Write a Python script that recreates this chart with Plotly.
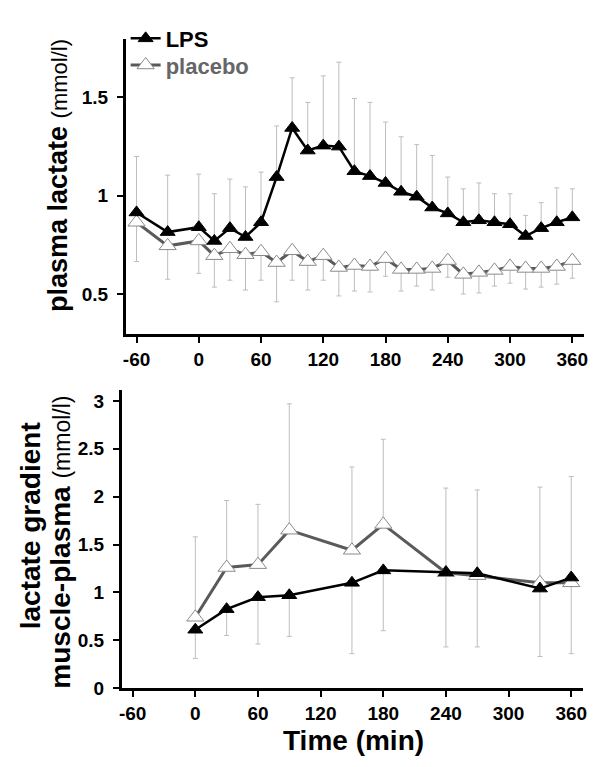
import plotly.graph_objects as go

# ---------------- data ----------------
time_top = [-60, -30, 0, 15, 30, 45, 60, 75, 90, 105, 120, 135, 150, 165, 180,
            195, 210, 225, 240, 255, 270, 285, 300, 315, 330, 345, 360]
lps_top = [0.915, 0.815, 0.84, 0.77, 0.835, 0.79, 0.865, 1.095, 1.345, 1.23, 1.255, 1.25,
           1.125, 1.10, 1.065, 1.02, 0.995, 0.94, 0.91, 0.865, 0.875, 0.865, 0.855,
           0.795, 0.835, 0.865, 0.89]
lps_top_sd = [0.285, 0.29, 0.27, 0.24, 0.25, 0.255, 0.255, 0.26, 0.255, 0.245, 0.355, 0.43,
              0.37, 0.375, 0.31, 0.28, 0.265, 0.265, 0.185, 0.17, 0.19, 0.145, 0.155,
              0.105, 0.13, 0.175, 0.145]
placebo_top = [0.865, 0.745, 0.77, 0.695, 0.73, 0.70, 0.715, 0.66, 0.72, 0.665, 0.695, 0.635,
               0.645, 0.64, 0.68, 0.625, 0.625, 0.63, 0.67, 0.60, 0.61, 0.62, 0.64,
               0.63, 0.63, 0.64, 0.67]
placebo_top_sd = [0.20, 0.17, 0.165, 0.16, 0.16, 0.18, 0.145, 0.20, 0.15, 0.145, 0.125, 0.145,
                  0.13, 0.13, 0.09, 0.11, 0.085, 0.11, 0.085, 0.10, 0.105, 0.08, 0.085,
                  0.105, 0.095, 0.09, 0.09]

time_bot = [0, 30, 60, 90, 150, 180, 240, 270, 330, 360]
lps_bot = [0.61, 0.825, 0.95, 0.97, 1.10, 1.23, 1.21, 1.20, 1.04, 1.155]
lps_bot_sd = [0.30, 0.275, 0.49, 0.43, 0.74, 0.63, 0.78, 0.77, 0.71, 0.795]
placebo_bot = [0.74, 1.26, 1.29, 1.65, 1.44, 1.71, 1.205, 1.175, 1.10, 1.10]
placebo_bot_sd = [0.84, 0.70, 0.63, 1.32, 0.87, 0.89, 0.885, 0.895, 1.00, 1.11]

x_ticks = [-60, 0, 60, 120, 180, 240, 300, 360]
x_ticklabels = ["-60", "0", "60", "120", "180", "240", "300", "360"]
y_top_ticks = [0.5, 1, 1.5]
y_top_labels = ["0.5", "1", "1.5"]
y_bot_ticks = [0, 0.5, 1, 1.5, 2, 2.5, 3]
y_bot_labels = ["0", "0.5", "1", "1.5", "2", "2.5", "3"]

# ---------------- styles ----------------
FONT = "Liberation Sans, Arial, sans-serif"
ERR_COL = "#bdbdbd"
PLAC_LINE = "#5a5a5a"
PLAC_EDGE = "#8a8a8a"

fig = go.Figure()


def err_trace(x, y, sd, up, xa, ya):
    e = dict(type="data", array=sd if up else [0] * len(sd),
             arrayminus=[0] * len(sd) if up else sd,
             symmetric=False, color=ERR_COL, thickness=1, width=2.5)
    return go.Scatter(x=x, y=y, mode="markers", xaxis=xa, yaxis=ya,
                      marker=dict(size=1, color="rgba(0,0,0,0)"),
                      error_y=e, showlegend=False, hoverinfo="skip")


# error bars first (beneath the lines)
fig.add_trace(err_trace(time_top, lps_top, lps_top_sd, True, "x", "y"))
fig.add_trace(err_trace(time_top, placebo_top, placebo_top_sd, False, "x", "y"))
fig.add_trace(err_trace(time_bot, placebo_bot, placebo_bot_sd, True, "x2", "y2"))
fig.add_trace(err_trace(time_bot, lps_bot, lps_bot_sd, False, "x2", "y2"))

lps_style = dict(mode="lines+markers", line=dict(color="black", width=2.5),
                 marker=dict(symbol="triangle-up", size=13, color="black",
                             line=dict(color="black", width=1)))
plac_style = dict(mode="lines+markers", line=dict(color=PLAC_LINE, width=3),
                  marker=dict(symbol="triangle-up", size=15, color="white",
                              line=dict(color=PLAC_EDGE, width=1)))

fig.add_trace(go.Scatter(x=time_top, y=placebo_top, xaxis="x", yaxis="y",
                         name="placebo", legend="legend2", **plac_style))
fig.add_trace(go.Scatter(x=time_top, y=lps_top, xaxis="x", yaxis="y",
                         name="LPS", legend="legend", **lps_style))
fig.add_trace(go.Scatter(x=time_bot, y=placebo_bot, xaxis="x2", yaxis="y2",
                         showlegend=False, **plac_style))
fig.add_trace(go.Scatter(x=time_bot, y=lps_bot, xaxis="x2", yaxis="y2",
                         showlegend=False, **lps_style))

W, H = 600, 767


def px_x(p):
    return p / W


def px_y(p):
    return 1 - p / H


axis_common = dict(showline=True, linecolor="black", linewidth=2.5,
                   ticks="outside", ticklen=6, tickwidth=2, tickcolor="black",
                   showgrid=False, zeroline=False,
                   tickfont=dict(family=FONT, size=19, color="black", weight="bold"))

legend_common = dict(xanchor="left", yanchor="middle", bgcolor="rgba(0,0,0,0)",
                     borderwidth=0, itemwidth=30)

fig.update_layout(
    width=W, height=H,
    margin=dict(l=0, r=0, t=0, b=0),
    paper_bgcolor="white", plot_bgcolor="white",
    font=dict(family=FONT, color="black"),
    xaxis=dict(domain=[px_x(116), px_x(580)], range=[-70.5, 371.5],
               tickvals=x_ticks, ticktext=x_ticklabels, anchor="y", **axis_common),
    yaxis=dict(domain=[px_y(331), px_y(31)], range=[0.295, 1.80],
               tickvals=y_top_ticks, ticktext=y_top_labels, anchor="x",
               ticklabelstandoff=5, **axis_common),
    xaxis2=dict(domain=[px_x(112), px_x(579)], range=[-70.5, 371.5],
                tickvals=x_ticks, ticktext=x_ticklabels, anchor="y2", **axis_common),
    yaxis2=dict(domain=[px_y(690), px_y(388)], range=[0, 3.11],
                tickvals=y_bot_ticks, ticktext=y_bot_labels, anchor="x2",
                ticklabelstandoff=5, **axis_common),
    legend=dict(x=px_x(116), y=px_y(31),
                font=dict(family=FONT, size=22, color="black", weight="bold"),
                **legend_common),
    legend2=dict(x=px_x(116), y=px_y(58),
                 font=dict(family=FONT, size=22, color="#666666", weight="bold"),
                 **legend_common),
    showlegend=True,
)

fig.add_annotation(
    text="<b>plasma lactate</b> <span style='font-size:22px'>(mmol/l)</span>",
    xref="paper", yref="paper", x=px_x(47), y=px_y(170), textangle=-90,
    showarrow=False, font=dict(family=FONT, size=27, color="black"),
    xanchor="center", yanchor="middle")

fig.add_annotation(
    text="<b>lactate gradient</b>",
    xref="paper", yref="paper", x=px_x(20), y=px_y(525), textangle=-90,
    showarrow=False, font=dict(family=FONT, size=28, color="black"),
    xanchor="center", yanchor="middle")

fig.add_annotation(
    text="<b>muscle-plasma</b> <span style='font-size:23px'>(mmol/l)</span>",
    xref="paper", yref="paper", x=px_x(50), y=px_y(542), textangle=-90,
    showarrow=False, font=dict(family=FONT, size=28, color="black"),
    xanchor="center", yanchor="middle")

fig.add_annotation(
    text="<b>Time (min)</b>", xref="paper", yref="paper",
    x=px_x(347), y=px_y(743), showarrow=False,
    font=dict(family=FONT, size=28, color="black"),
    xanchor="center", yanchor="middle")

fig.write_html("out.html")
